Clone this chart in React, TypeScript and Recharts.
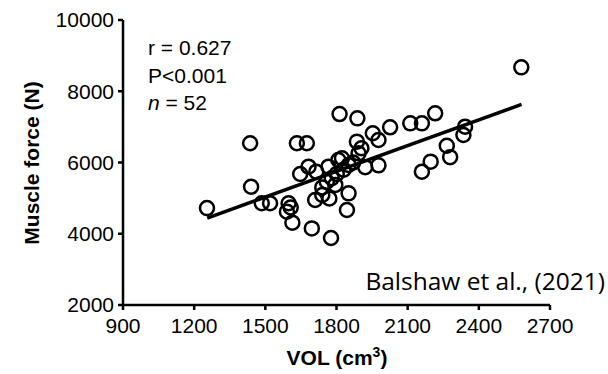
import React from 'react';
import { ScatterChart, Scatter, XAxis, YAxis, ReferenceLine } from 'recharts';

// VOL (cm3) and muscle force (N) for each participant
const vol = [
  1254, 1436, 1440, 1485, 1520, 1598, 1591, 1614, 1633, 1675,
  1647, 1682, 1715, 1710, 1696, 1777, 1766, 1759, 1740, 1770,
  1808, 1801, 1795, 1813, 1888, 1886, 1893, 1823, 1851, 1921,
  1977, 1851, 1844, 1953, 1977, 2026, 2111, 2160, 2216, 2265,
  2279, 2197, 2160, 2335, 2342, 2579, 1607, 1780, 1830, 1870,
  1740, 1905,
];
const force = [
  4720, 6540, 5320, 4855, 4855, 4855, 4620, 4310, 6540, 6540,
  5677, 5882, 5742, 4947, 4150, 3880, 5882, 5461, 5088, 4990,
  6070, 5680, 5370, 7360, 7240, 6585, 6257, 6118, 5930, 5870,
  5920, 5135, 4667, 6820, 6632, 6988, 7100, 7100, 7381, 6470,
  6150, 6023, 5742, 6772, 7005, 8672, 4740, 5560, 5800, 6000,
  5300, 6400,
];

const xTicks = [900, 1200, 1500, 1800, 2100, 2400, 2700];
const yTicks = [2000, 4000, 6000, 8000, 10000];

// fitted line end points
const fitX = [1255, 2580];
const fitY = [4440, 7630];

const data = vol.map((v, i) => ({ vol: v, force: force[i] }));

const FONT = '"Liberation Sans", Arial, sans-serif';
const axisStyle = { stroke: '#000', strokeWidth: 2.5 };

const OpenCircle = (props: any) => (
  <circle cx={props.cx} cy={props.cy} r={7} fill="none" stroke="#000" strokeWidth={2.5} />
);

export default function App() {
  return (
    <div style={{ position: 'fixed', left: 0, top: 0, width: 608, height: 374, background: '#fff' }}>
      <ScatterChart width={608} height={374} margin={{ top: 20, right: 58, bottom: 0, left: 0 }}>
        <XAxis
          type="number"
          dataKey="vol"
          domain={[900, 2700]}
          ticks={xTicks}
          height={69}
          axisLine={axisStyle}
          tickLine={axisStyle}
          tickSize={5}
          tickMargin={8}
          tick={{ fill: '#000', fontSize: 21, fontFamily: FONT }}
        />
        <YAxis
          type="number"
          dataKey="force"
          domain={[2000, 10000]}
          ticks={yTicks}
          width={123}
          axisLine={axisStyle}
          tickLine={axisStyle}
          tickSize={5}
          tickMargin={4}
          tick={{ fill: '#000', fontSize: 21, fontFamily: FONT }}
        />
        <ReferenceLine
          segment={[{ x: fitX[0], y: fitY[0] }, { x: fitX[1], y: fitY[1] }]}
          stroke="#000"
          strokeWidth={3.5}
        />
        <Scatter data={data} shape={OpenCircle} isAnimationActive={false} />
      </ScatterChart>
      <svg width={608} height={374} style={{ position: 'absolute', left: 0, top: 0, pointerEvents: 'none' }}>
        <g fontFamily={FONT} fontSize={21} fill="#000">
          <text x={148} y={55}>r = 0.627</text>
          <text x={148} y={83}>P&lt;0.001</text>
          <text x={148} y={110}><tspan fontStyle="italic">n</tspan> = 52</text>
        </g>
        <text
          x={31}
          y={163}
          transform="rotate(-90, 31, 163)"
          textAnchor="middle"
          dominantBaseline="central"
          fontFamily={FONT}
          fontSize={21}
          fontWeight="bold"
          fill="#000"
        >
          Muscle force (N)
        </text>
        <text x={337} y={365} textAnchor="middle" fontFamily={FONT} fontSize={21} fontWeight="bold" fill="#000">
          VOL (cm<tspan dy={-8} fontSize={14}>3</tspan><tspan dy={8}>)</tspan>
        </text>
        <text x={605} y={290} textAnchor="end" fontFamily='"Open Sans", sans-serif' fontSize={24.5} fill="#000">
          Balshaw et al., (2021)
        </text>
      </svg>
    </div>
  );
}
